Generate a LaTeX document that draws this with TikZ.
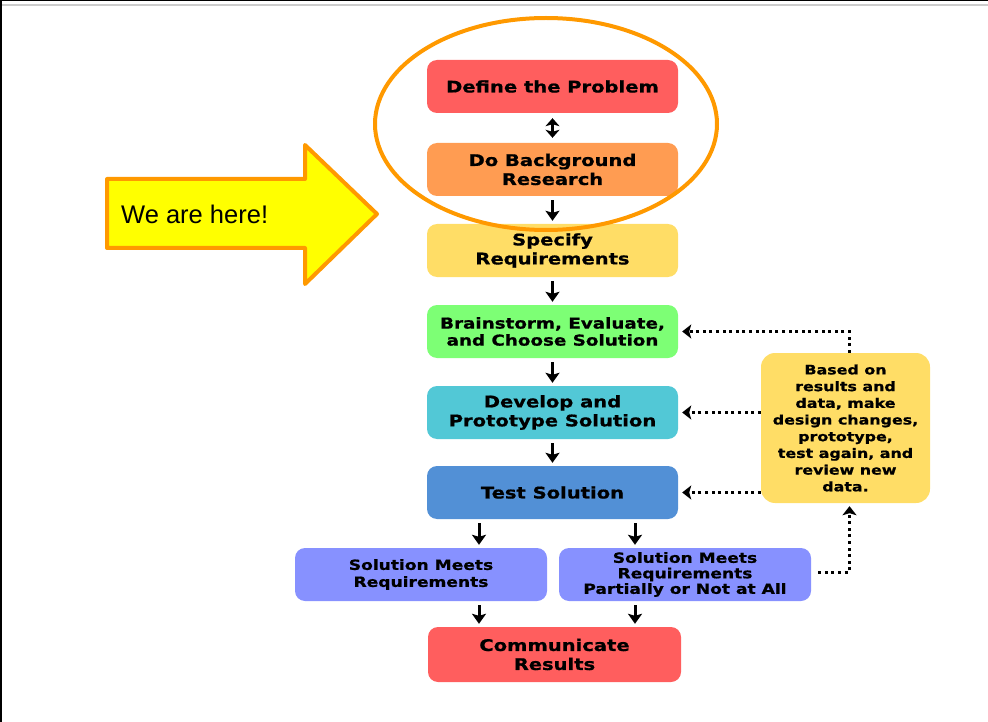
\documentclass[tikz,border=0pt]{standalone}
\usepackage{fontspec}
\setmainfont{DejaVu Sans}[FakeStretch=1.22, BoldFeatures={FakeBold=0.8}]
\newfontfamily\arialf{Liberation Sans}
\usetikzlibrary{arrows.meta}
\definecolor{cRed}{HTML}{FF5E5E}
\definecolor{cOrange}{HTML}{FF9C52}
\definecolor{cYellow}{HTML}{FFDD66}
\definecolor{cGreen}{HTML}{7DFF75}
\definecolor{cCyan}{HTML}{52C8D6}
\definecolor{cBlue}{HTML}{5290D6}
\definecolor{cPeri}{HTML}{8791FF}
\definecolor{cRing}{HTML}{FF9900}
\definecolor{cBig}{HTML}{FFFF00}
\tikzset{
  box/.style={rectangle, rounded corners=10pt, minimum width=251pt, minimum height=53pt,
     align=center, inner sep=0pt, font=\bfseries\fontsize{16}{19}\selectfont},
  smallbox/.style={box, font=\bfseries\fontsize{14}{17}\selectfont},
  arr/.style={-{Stealth[width=14pt,length=10pt,inset=2pt]}, line width=3pt, shorten <=4pt, shorten >=3pt},
  darr/.style={{Stealth[width=14pt,length=8pt,inset=2pt]}-{Stealth[width=14pt,length=8pt,inset=2pt]}, line width=3pt, shorten <=5pt, shorten >=5pt},
  dotarr/.style={-{Stealth[width=14pt,length=9pt,inset=2pt]}, line width=3pt, dash pattern=on 3pt off 3.6pt}
}
\begin{document}
\begin{tikzpicture}[x=1pt,y=-1pt]
\useasboundingbox (0,0) rectangle (988,722);
% frame
\draw[line width=1.5pt] (0,0.75) -- (988,0.75);
\draw[line width=1.5pt] (0.75,0) -- (0.75,722);
\draw[line width=2pt, black!20] (2,5.5) -- (988,5.5);

% main column
\node[box, fill=cRed] (def) at (552.5,86.5) {Define the Problem};
\node[box, fill=cOrange] (bg) at (552.5,169.5) {Do Background\\Research};
\node[box, fill=cYellow] (spec) at (552.5,250.5) {Specify\\Requirements};
\node[box, fill=cGreen, font=\bfseries\fontsize{15}{17}\selectfont] (brain) at (552.5,331.5) {Brainstorm, Evaluate,\\and Choose Solution};
\node[box, fill=cCyan] (dev) at (552.5,412.5) {Develop and\\Prototype Solution};
\node[box, fill=cBlue] (test) at (552.5,492.5) {Test Solution};
\node[smallbox, fill=cPeri, minimum width=252pt] (sol) at (421,574.5) {Solution Meets\\Requirements};
\node[smallbox, fill=cPeri, minimum width=252pt, font=\bfseries\fontsize{14}{15.5}\selectfont] (part) at (685,574.5) {Solution Meets\\Requirements\\Partially or Not at All};
\node[box, fill=cRed, minimum width=253pt, minimum height=55pt] (comm) at (554.5,654.5) {Communicate\\Results};
\node[box, fill=cYellow, minimum width=169pt, minimum height=150pt, rounded corners=14pt,
      font=\bfseries\fontsize{13}{16.7}\selectfont] (fb) at (845.5,428) {Based on\\results and\\data, make\\design changes,\\prototype,\\test again, and\\review new\\data.};

% arrows
\draw[darr] (def) -- (bg);
\draw[arr] (bg) -- (spec);
\draw[arr] (spec) -- (brain);
\draw[arr] (brain) -- (dev);
\draw[arr] (dev) -- (test);
\draw[arr] ([xshift=58pt]sol.north |- test.south) -- ([xshift=58pt]sol.north);
\draw[arr] ([xshift=-50pt]part.north |- test.south) -- ([xshift=-50pt]part.north);
\draw[arr] ([xshift=58pt]sol.south) -- ([xshift=58pt]sol.south |- comm.north);
\draw[arr] ([xshift=-50pt]part.south) -- ([xshift=-50pt]part.south |- comm.north);

% feedback dotted
\draw[dotarr, shorten >=4pt] ([xshift=4pt]fb.north) |- (brain.east);
\draw[dotarr, shorten >=4pt] (fb.west |- dev.east) -- (dev.east);
\draw[dotarr, shorten >=4pt] (fb.west |- test.east) -- (test.east);
\draw[dotarr, shorten <=7pt, shorten >=3pt] ([yshift=2.5pt]part.east) -| ([xshift=4pt]fb.south);

% big arrow
\draw[line width=4pt, cRing, fill=cBig, line join=round]
  (107,179) -- (305,179) -- (305,145) -- (377,214) -- (305,284) -- (305,248) -- (107,248) -- cycle;
\node[anchor=west, inner sep=0pt, font=\arialf\fontsize{25.5}{30}\selectfont] (here) at (121,214) {We are here!};

% ring
\draw[line width=4pt, cRing] (546,124) ellipse [x radius=171pt, y radius=106pt];
\end{tikzpicture}
\end{document}
